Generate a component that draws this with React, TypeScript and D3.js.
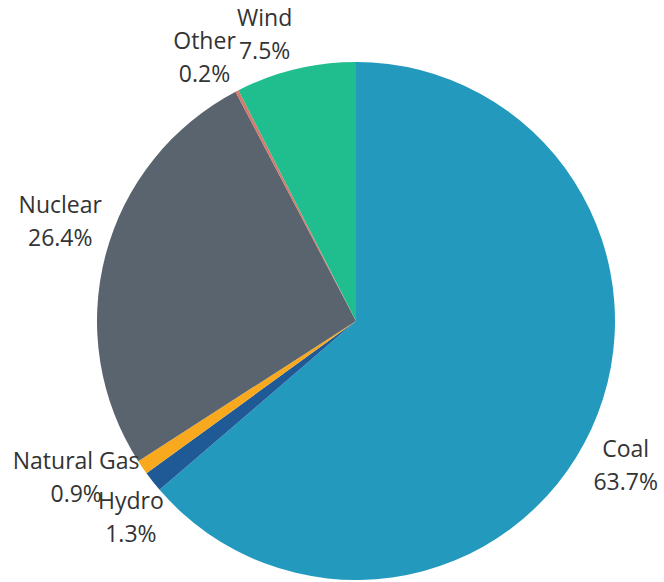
import React from "react";
import * as d3 from "d3";

const categories = ["Coal", "Hydro", "Natural Gas", "Nuclear", "Other", "Wind"];
const shares = [63.7, 1.3, 0.9, 26.4, 0.2, 7.5];
const colors = ["#2399BD", "#1F5A96", "#F9A91E", "#59646E", "#D9786A", "#20BE8F"];
// small per-label nudges (label layout), in px, relative to the label arc point
const labelNudgeX = [-12, 18, -24, 4, -9, -19];
const labelNudgeY = [7, -4, -27, -29, 3, 6];

const W = 664;
const H = 582;
const cx = 356;
const cy = 321;
const R = 259;
const labelR = 310;

export default function App() {
  const pie = d3
    .pie<number>()
    .sort(null)
    .value((d) => d);
  const arcs = pie(shares);
  const arc = d3.arc<d3.PieArcDatum<number>>().innerRadius(0).outerRadius(R);
  const labelArc = d3
    .arc<d3.PieArcDatum<number>>()
    .innerRadius(labelR)
    .outerRadius(labelR);
  const fontSize = 23;
  const lineH = 33;
  return (
    <svg
      width={W}
      height={H}
      style={{ position: "absolute", left: 0, top: 0, display: "block" }}
    >
      <rect width={W} height={H} fill="#ffffff" />
      <g transform={`translate(${cx},${cy})`}>
        {arcs.map((a, i) => (
          <path key={categories[i]} d={arc(a) || ""} fill={colors[i]} />
        ))}
        {arcs.map((a, i) => {
          const [x, y] = labelArc.centroid(a);
          const lx = x + labelNudgeX[i];
          const ly = y + labelNudgeY[i];
          return (
            <text
              key={"l" + categories[i]}
              x={lx}
              y={ly}
              textAnchor="middle"
              fontFamily="'Open Sans', 'Noto Sans', sans-serif"
              fontSize={fontSize}
              fill="#333333"
            >
              <tspan x={lx} y={ly}>
                {categories[i]}
              </tspan>
              <tspan x={lx} y={ly + lineH}>
                {shares[i].toFixed(1) + "%"}
              </tspan>
            </text>
          );
        })}
      </g>
    </svg>
  );
}
